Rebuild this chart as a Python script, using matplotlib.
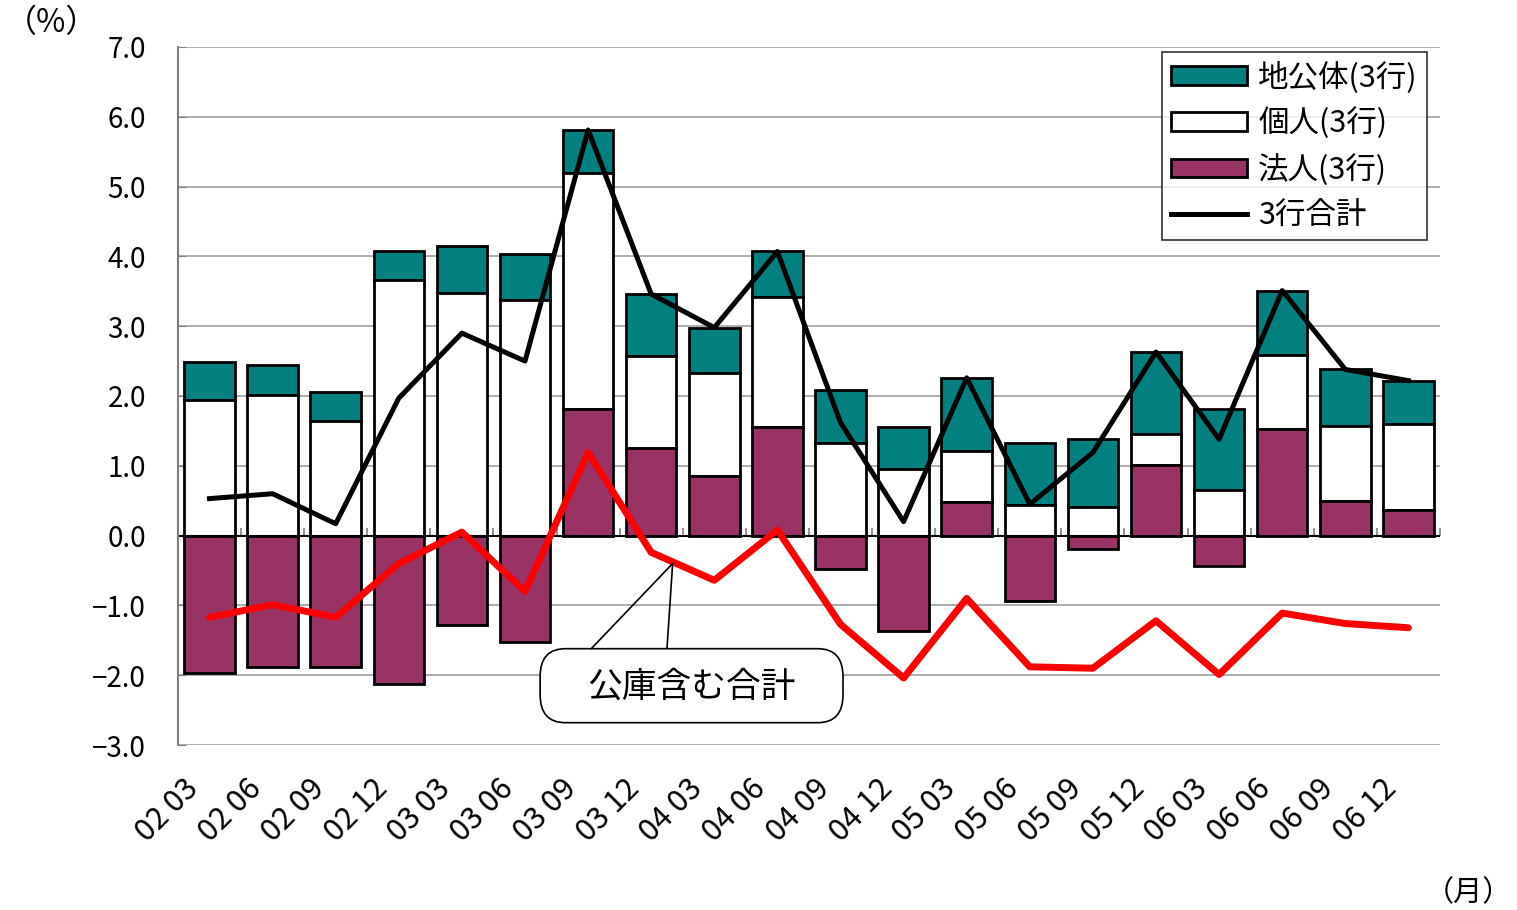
import numpy as np
import matplotlib.pyplot as plt
import matplotlib.transforms as mtransforms
from matplotlib.patches import FancyBboxPatch

plt.rcParams["font.family"] = ["Noto Sans CJK JP", "DejaVu Sans"]

months = ["02 03", "02 06", "02 09", "02 12", "03 03", "03 06", "03 09", "03 12",
          "04 03", "04 06", "04 09", "04 12", "05 03", "05 06", "05 09", "05 12",
          "06 03", "06 06", "06 09", "06 12"]

# 法人(3行)
corp = [-1.97, -1.88, -1.88, -2.13, -1.28, -1.53, 1.81, 1.25,
        0.85, 1.56, -0.48, -1.37, 0.48, -0.93, -0.19, 1.01,
        -0.44, 1.53, 0.49, 0.36]
# 個人(3行)
indiv = [1.94, 2.01, 1.64, 3.66, 3.47, 3.38, 3.39, 1.32,
         1.48, 1.86, 1.33, 0.96, 0.73, 0.44, 0.41, 0.44,
         0.65, 1.05, 1.08, 1.24]
# 地公体(3行)
local = [0.55, 0.44, 0.41, 0.41, 0.68, 0.65, 0.61, 0.89,
         0.65, 0.65, 0.76, 0.60, 1.05, 0.89, 0.97, 1.18,
         1.17, 0.93, 0.81, 0.62]
# 3行合計
total3 = [0.53, 0.60, 0.17, 1.97, 2.90, 2.50, 5.81, 3.46,
          2.98, 4.07, 1.62, 0.20, 2.26, 0.45, 1.19, 2.63,
          1.38, 3.51, 2.38, 2.22]
# 公庫含む合計
total_all = [-1.17, -0.99, -1.17, -0.40, 0.05, -0.80, 1.19, -0.24,
             -0.64, 0.08, -1.27, -2.04, -0.90, -1.88, -1.90, -1.22,
             -1.99, -1.11, -1.26, -1.32]

TEAL = "#008080"
PURPLE = "#993366"

corp = np.array(corp)
indiv = np.array(indiv)
local = np.array(local)
x = np.arange(len(months))
width = 0.8

# individual bars sit on positive corporate bars, otherwise on zero
indiv_base = np.where(corp > 0, corp, 0)
local_base = indiv_base + indiv

fig = plt.figure(figsize=(15.17, 9.10), dpi=100)
ax = fig.add_axes([0.1173, 0.1813, 0.8319, 0.7671])

ax.set_axisbelow(True)
ax.yaxis.grid(True, color="#a0a0a0", linewidth=1.2)

b_local = ax.bar(x, local, width, bottom=local_base, color=TEAL,
                 edgecolor="black", linewidth=2, label="地公体(3行)", zorder=2)
b_indiv = ax.bar(x, indiv, width, bottom=indiv_base, color="white",
                 edgecolor="black", linewidth=2, label="個人(3行)", zorder=2)
b_corp = ax.bar(x, corp, width, color=PURPLE, edgecolor="black",
                linewidth=2, label="法人(3行)", zorder=2)
l_tot, = ax.plot(x, total3, color="black", linewidth=3.6, label="3行合計",
                 zorder=4)
ax.plot(x, total_all, color="#ff0000", linewidth=5, zorder=3,
        solid_capstyle="round")

ax.axhline(0, color="black", linewidth=1.5, zorder=2.5)

ax.set_xlim(-0.5, len(months) - 0.5)
ax.set_ylim(-3, 7)
yt = np.arange(-3, 8, 1)
ax.set_yticks(yt)
ax.set_yticklabels([f"{v:.1f}".replace("-", "−") for v in yt], fontsize=20)
ax.tick_params(axis="y", direction="in", length=6, color="#808080", pad=23)

ax.set_xticks(x)
ax.set_xticklabels(months, rotation=45, ha="right", rotation_mode="anchor",
                   fontsize=22)
ax.tick_params(axis="x", length=0, pad=20)
shift = mtransforms.ScaledTranslation(-0.27, 0, fig.dpi_scale_trans)
for lbl in ax.get_xticklabels():
    lbl.set_transform(lbl.get_transform() + shift)

for s in ["top", "right", "bottom"]:
    ax.spines[s].set_visible(False)
ax.spines["left"].set_color("#808080")
ax.spines["left"].set_linewidth(1.5)

# category separators on the zero line
sec = ax.secondary_xaxis(0.3)
sec.set_xticks(np.arange(-0.5, len(months), 1))
sec.set_xticklabels([])
sec.tick_params(axis="x", direction="in", length=6, color="#808080", width=1.2)
sec.spines["bottom"].set_visible(False)

leg = ax.legend([b_local, b_indiv, b_corp, l_tot],
                ["地公体(3行)", "個人(3行)", "法人(3行)", "3行合計"],
                loc="upper right", bbox_to_anchor=(0.9897, 0.9928), fontsize=22,
                frameon=True, fancybox=False, edgecolor="black",
                handlelength=2.5, handleheight=0.55, handletextpad=0.35,
                labelspacing=0.47, borderpad=0.3, borderaxespad=0)
leg.get_frame().set_linewidth(1.2)

# callout for the red line
box = FancyBboxPatch((5.24, -2.68), 10.04 - 5.24, 1.06,
                     boxstyle="round,pad=0,rounding_size=0.4",
                     fc="white", ec="black", lw=1.2, zorder=6)
ax.add_patch(box)
ax.text(7.64, -2.17, "公庫含む合計", fontsize=25, ha="center", va="center",
        zorder=7)
for x0 in (6.05, 7.25):
    ax.annotate("", xy=(7.34, -0.40), xytext=(x0, -1.62), zorder=6,
                arrowprops=dict(arrowstyle="-", color="black", lw=1.2,
                                shrinkA=0, shrinkB=0))

fig.text(0.003, 0.975, "（%）", fontsize=23, ha="left", va="center")
fig.text(0.997, 0.018, "（月）", fontsize=21, ha="right", va="center")

fig.savefig("out.png", dpi=100)
